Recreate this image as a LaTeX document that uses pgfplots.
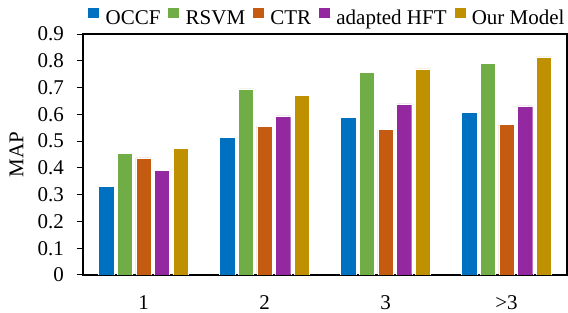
\documentclass[border=0pt]{standalone}
\usepackage{fontspec}
\setmainfont{Liberation Serif}
\usepackage{pgfplots}
\pgfplotsset{compat=1.18}
\definecolor{cOCCF}{HTML}{0070C0}
\definecolor{cRSVM}{HTML}{70AD47}
\definecolor{cCTR}{HTML}{C55A11}
\definecolor{cHFT}{HTML}{9328A0}
\definecolor{cOur}{HTML}{BF9000}
\begin{document}
\fontsize{21bp}{25bp}\selectfont
\begin{tikzpicture}
\begin{axis}[
  name=a,
  scale only axis,
  width=484bp, height=241bp,
  ybar,
  bar width=0.125,
  xmin=-0.5, xmax=3.5,
  ymin=0, ymax=0.9,
  xtick={0,1,2,3},
  xticklabels={1,2,3,>3},
  x tick style={draw=none},
  ytick={0,0.1,...,0.9},
  yticklabel style={/pgf/number format/fixed, /pgf/number format/precision=1, xshift=-6bp},
  xticklabel style={yshift=-7bp},
  /pgf/number format/assume math mode=true,
  ytick pos=left,
  tick align=outside,
  major tick length=6bp,
  y tick style={black, line width=1pt},
  axis line style={black, line width=1.1pt},
  ylabel={MAP},
  ylabel style={yshift=0bp},
  every axis plot/.append style={draw=white, line width=0.4pt},
  legend style={at={(0.5,1)}, anchor=south, draw=none, legend columns=-1,
    font=\fontsize{21bp}{25bp}\selectfont,
    /tikz/every even column/.append style={column sep=6bp},
    inner sep=0pt, yshift=4bp, xshift=2.5bp, fill=none},
  legend image code/.code={\fill[#1,draw=none] (0bp,1bp) rectangle (11bp,11bp); \path (15bp,0bp);},
]
\addplot[fill=cOCCF, bar shift=-0.308] coordinates {(0,0.330) (1,0.513) (2,0.589) (3,0.607)};
\addplot[fill=cRSVM, bar shift=-0.154] coordinates {(0,0.455) (1,0.695) (2,0.758) (3,0.790)};
\addplot[fill=cCTR, bar shift=0] coordinates {(0,0.437) (1,0.556) (2,0.544) (3,0.562)};
\addplot[fill=cHFT, bar shift=0.154] coordinates {(0,0.392) (1,0.594) (2,0.639) (3,0.632)};
\addplot[fill=cOur, bar shift=0.308] coordinates {(0,0.474) (1,0.670) (2,0.770) (3,0.815)};
\legend{OCCF,RSVM,CTR,adapted HFT,Our Model}
\end{axis}
\pgfresetboundingbox
\path[use as bounding box] ([xshift=-83bp,yshift=-38bp]a.south west) rectangle ([xshift=1bp,yshift=34bp]a.north east);
\end{tikzpicture}
\end{document}
